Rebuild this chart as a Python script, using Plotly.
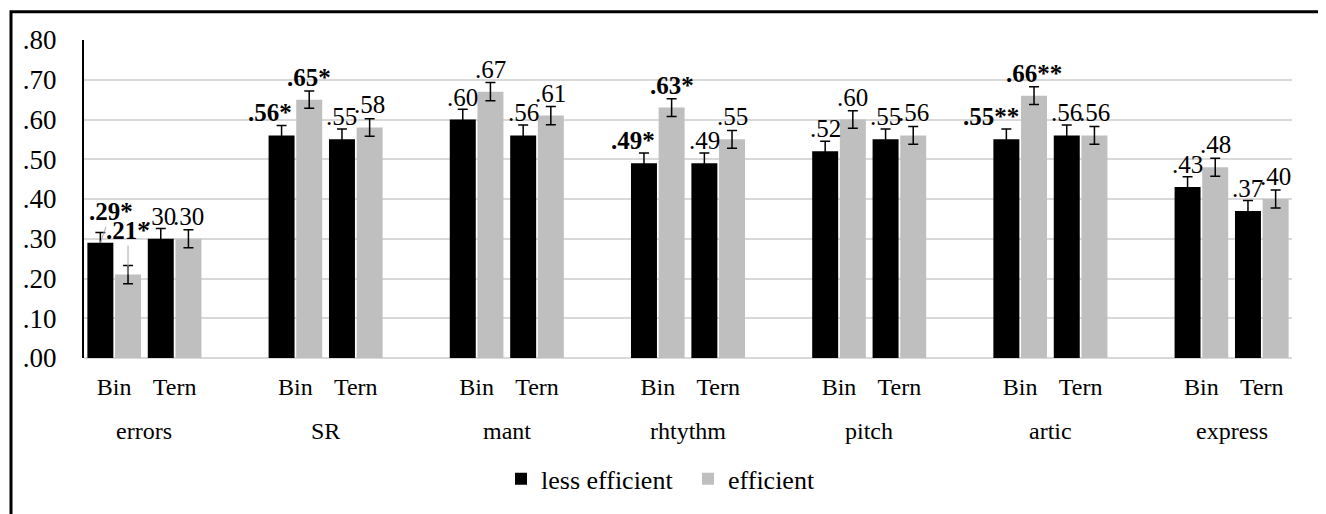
import plotly.graph_objects as go

# ---------------- data ----------------
groups = ["errors", "SR", "mant", "rhtythm", "pitch", "artic", "express"]
subcats = ["Bin", "Tern"]
series_names = ["less efficient", "efficient"]

# values in order: errors-Bin, errors-Tern, SR-Bin, SR-Tern, ...
less_vals = [0.29, 0.30, 0.56, 0.55, 0.60, 0.56, 0.49, 0.49, 0.52, 0.55, 0.55, 0.56, 0.43, 0.37]
eff_vals = [0.21, 0.30, 0.65, 0.58, 0.67, 0.61, 0.63, 0.55, 0.60, 0.56, 0.66, 0.56, 0.48, 0.40]
less_err = [0.026, 0.026, 0.025, 0.026, 0.026, 0.026, 0.026, 0.026, 0.025, 0.026, 0.026, 0.026, 0.026, 0.026]
eff_err = [0.023, 0.0225, 0.022, 0.022, 0.023, 0.023, 0.0225, 0.0225, 0.022, 0.0225, 0.0225, 0.0225, 0.0225, 0.0225]
less_stars = ["*", "", "*", "", "", "", "*", "", "", "", "**", "", "", ""]
eff_stars = ["*", "", "*", "", "", "", "*", "", "", "", "**", "", "", ""]

y_tickvals = [0.0, 0.1, 0.2, 0.3, 0.4, 0.5, 0.6, 0.7, 0.8]
y_ticktext = [".00", ".10", ".20", ".30", ".40", ".50", ".60", ".70", ".80"]

# ---------------- styling ----------------
FONT = "Liberation Serif, Times New Roman, serif"
BLACK = "#000000"
GRAY = "#bfbfbf"
GRID = "#d9d9d9"
BARGAP = 0.084
BARGROUPGAP = 0.061
OFF = 8  # page body margin
W, H = 1326 - OFF, 514 - OFF
ML = 84 - OFF
MT = 40 - OFF
PLOT_R = 1292 - OFF
PLOT_B = 361 - OFF
MR = W - PLOT_R
MB = H - PLOT_B
plot_w = W - ML - MR
plot_h = H - MT - MB


def px_x(p):  # screen px -> paper
    return (p - OFF - ML) / plot_w


def px_y(p):
    return (PLOT_B - (p - OFF)) / plot_h


# category positions: Bin / Tern for each group, with an empty slot between groups
xpos = []
xlabels = []
for g in range(len(groups)):
    for s, sc in enumerate(subcats):
        xpos.append(3 * g + s)
        xlabels.append(sc)
group_centers = [3 * g + 0.5 for g in range(len(groups))]

fig = go.Figure()
fig.add_trace(go.Bar(
    x=xpos, y=less_vals, name=series_names[0], marker=dict(color=BLACK, line=dict(width=0)),
    error_y=dict(type="data", array=less_err, visible=True, color=BLACK, thickness=1.5, width=5),
))
fig.add_trace(go.Bar(
    x=xpos, y=eff_vals, name=series_names[1], marker=dict(color=GRAY, line=dict(width=0)),
    error_y=dict(type="data", array=eff_err, visible=True, color=BLACK, thickness=1.5, width=5),
))

# data labels
half = (1 - BARGAP) / 4.0
label_nudge = {("less", 2): -12, ("less", 6): -11, ("less", 10): -15}
annotations = []
LABEL_SIZE = 25
for key, vals, stars, off in (("less", less_vals, less_stars, -half), ("eff", eff_vals, eff_stars, half)):
    for i, v in enumerate(vals):
        txt = ("%.2f" % v)[1:] + stars[i]
        if stars[i]:
            txt = "<b>" + txt + "</b>"
        xa = xpos[i] + off
        if i == 0:
            # leader-line labels in the "errors" group
            if key == "less":
                annotations.append(dict(x=xa, y=v, xref="x", yref="y", text=txt, showarrow=True,
                                        arrowhead=0, arrowwidth=1, arrowcolor="#a6a6a6",
                                        ax=11, ay=-31, font=dict(family=FONT, size=LABEL_SIZE, color=BLACK)))
            else:
                annotations.append(dict(x=xa, y=v, xref="x", yref="y", text=txt, showarrow=True,
                                        arrowhead=0, arrowwidth=1, arrowcolor="#a6a6a6",
                                        ax=0, ay=-44, font=dict(family=FONT, size=LABEL_SIZE, color=BLACK)))
            continue
        annotations.append(dict(x=xa, y=v, xref="x", yref="y", text=txt, showarrow=False,
                                yanchor="bottom", xanchor="center", yshift=7,
                                xshift=label_nudge.get((key, i), 0),
                                font=dict(family=FONT, size=LABEL_SIZE, color=BLACK)))

# group labels
for gc, gname in zip(group_centers, groups):
    annotations.append(dict(x=gc, y=px_y(435), xref="x", yref="paper", text=gname,
                            showarrow=False, yanchor="middle", xanchor="center",
                            font=dict(family=FONT, size=24, color=BLACK)))

fig.update_layout(
    width=W, height=H,
    margin=dict(l=ML, r=MR, t=MT, b=MB, pad=0),
    paper_bgcolor="white", plot_bgcolor="white",
    barmode="group", bargap=BARGAP, bargroupgap=BARGROUPGAP,
    font=dict(family=FONT, size=24, color=BLACK),
    showlegend=True,
    legend=dict(orientation="h", x=px_x(501), xanchor="left", y=px_y(483), yanchor="middle",
                font=dict(family=FONT, size=26, color=BLACK), bgcolor="rgba(0,0,0,0)",
                traceorder="normal", itemwidth=30, entrywidth=142, entrywidthmode="pixels"),
    annotations=annotations,
    shapes=[dict(type="rect", xref="paper", yref="paper",
                 x0=px_x(11), x1=px_x(1320), y0=px_y(540), y1=px_y(11.5),
                 line=dict(color=BLACK, width=3), fillcolor="rgba(0,0,0,0)", layer="above")],
)
fig.update_xaxes(range=[-0.5, 19.5], tickmode="array", tickvals=xpos, ticktext=xlabels,
                 showgrid=False, zeroline=False, showline=False, ticks="",
                 tickfont=dict(family=FONT, size=24, color=BLACK), ticklabelstandoff=12)
fig.update_yaxes(range=[0, 0.8], tickmode="array", tickvals=y_tickvals, ticktext=y_ticktext,
                 showgrid=True, gridcolor=GRID, gridwidth=1.5, zeroline=True, zerolinecolor=GRID,
                 zerolinewidth=1.5, showline=True, linecolor=BLACK, linewidth=2, ticks="",
                 tickfont=dict(family=FONT, size=27, color=BLACK), ticklabelstandoff=20)

fig.write_html("out.html")
